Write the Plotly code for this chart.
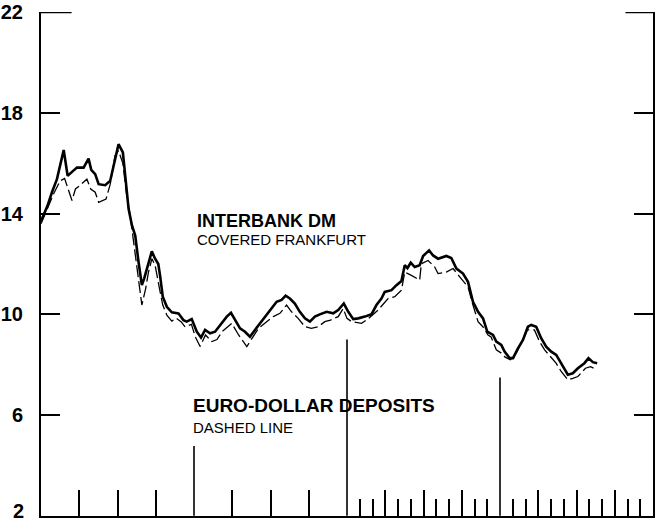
import plotly.graph_objects as go

# ---- data (x in months from start of the 4-year span) ----
dm_month = [0.0, 0.5, 0.86, 1.25, 1.78, 2.09, 2.43, 2.82, 3.34, 3.73, 3.94, 4.25, 4.52, 5.04,
            5.43, 5.69, 6.08, 6.42, 6.6, 6.87, 7.13, 7.39, 7.65, 7.91, 8.09, 8.43, 8.69, 8.95,
            9.2, 9.35, 9.55, 9.87, 10.26, 10.78, 11.17, 11.43, 11.82, 12.22, 12.55, 12.87,
            13.26, 13.65, 14.17, 14.57, 14.9, 15.22, 15.61, 16.0, 16.39, 16.78, 17.3, 17.7,
            18.09, 18.48, 18.87, 19.19, 19.52, 19.91, 20.3, 20.7, 21.09, 21.48, 21.87, 22.4,
            22.92, 23.31, 23.75, 24.1, 24.49, 24.88, 25.4, 25.92, 26.31, 26.7, 26.96, 27.49,
            27.88, 28.27, 28.53, 28.74, 29.0, 29.31, 29.7, 29.97, 30.44, 30.75, 31.14, 31.79,
            32.18, 32.58, 33.1, 33.49, 33.88, 34.28, 34.67, 35.0, 35.45, 35.71, 36.1, 36.36,
            36.75, 37.02, 37.41, 37.8, 38.19, 38.45, 38.84, 39.23, 39.62, 40.02, 40.41, 40.8,
            41.32, 41.71, 42.11, 42.62, 42.94, 43.28, 43.62]
dm_rate = [13.7, 14.3, 14.85, 15.37, 16.53, 15.5, 15.66, 15.83, 15.83, 16.19, 15.74, 15.57, 15.17, 15.13,
           15.31, 15.9, 16.76, 16.43, 15.5, 14.19, 13.54, 13.13, 12.08, 11.16, 11.42, 12.08, 12.5, 12.21,
           12.0, 11.5, 10.7, 10.3, 10.08, 10.04, 9.77, 9.71, 9.81, 9.31, 9.08, 9.38,
           9.25, 9.31, 9.64, 9.91, 10.06, 9.77, 9.44, 9.31, 9.11, 9.38, 9.71, 9.97,
           10.23, 10.5, 10.57, 10.74, 10.63, 10.43, 10.1, 9.84, 9.71, 9.91, 10.0, 10.1,
           10.04, 10.17, 10.43, 10.1, 9.81, 9.84, 9.91, 10.0, 10.37, 10.63, 10.89, 10.96,
           11.16, 11.32, 11.95, 11.84, 12.05, 11.88, 11.95, 12.32, 12.54, 12.34, 12.21, 12.32,
           12.24, 11.82, 11.62, 11.29, 10.5, 10.1, 9.84, 9.31, 9.18, 8.92, 8.79, 8.52,
           8.26, 8.26, 8.65, 8.98, 9.51, 9.58, 9.51, 9.05, 8.72, 8.52, 8.39, 8.06,
           7.6, 7.66, 7.86, 8.06, 8.26, 8.1, 8.06]

ed_month = [0.0, 0.5, 1.0, 1.5, 1.85, 2.43, 2.7, 3.0, 3.34, 3.6, 3.9, 4.25, 4.52, 4.78, 5.1,
            5.43, 5.8, 6.08, 6.42, 6.7, 7.0, 7.3, 7.6, 7.91, 8.2, 8.43, 8.7, 8.95, 9.3, 9.55,
            9.87, 10.26, 10.6, 11.0, 11.3, 11.8, 12.1, 12.48, 12.9, 13.4, 13.8, 14.2, 14.96,
            15.5, 16.14, 16.54, 17.05, 17.7, 18.22, 18.74, 19.26, 19.65, 20.17, 20.7, 21.2,
            21.74, 22.26, 22.7, 23.31, 23.7, 24.0, 24.36, 25.14, 25.6, 26.44, 27.22, 27.75,
            28.27, 28.53, 29.05, 29.7, 29.83, 30.36, 30.88, 31.14, 31.79, 32.32, 32.84, 33.49,
            33.88, 34.28, 34.67, 35.06, 35.3, 35.71, 36.1, 36.4, 36.8, 37.1, 37.6, 38.14, 38.7,
            39.1, 39.5, 40.02, 40.4, 40.8, 41.32, 41.71, 42.11, 42.7, 43.1, 43.62]
ed_rate = [13.6, 14.2, 14.8, 15.3, 15.4, 14.52, 14.98, 15.1, 15.24, 15.37, 14.98, 14.85, 14.45, 14.52, 14.58,
           15.17, 16.3, 16.5, 16.0, 14.8, 13.9, 12.74, 11.6, 10.37, 11.0, 11.68, 12.21, 11.95, 11.0, 10.37,
           9.97, 9.73, 9.85, 9.7, 9.5, 9.6, 9.11, 8.72, 9.18, 8.92, 9.0, 9.31, 9.64,
           9.18, 8.72, 9.05, 9.44, 9.71, 9.91, 10.04, 10.37, 10.1, 9.84, 9.51, 9.44,
           9.51, 9.71, 9.77, 9.91, 10.23, 9.84, 9.71, 9.64, 9.8, 10.17, 10.63, 10.7,
           10.96, 11.68, 11.55, 11.36, 12.01, 12.14, 11.88, 11.62, 11.68, 11.82, 11.49, 11.09,
           10.37, 9.71, 9.5, 9.18, 9.1, 8.59, 8.46, 8.3, 8.2, 8.3, 8.79, 9.38, 9.38,
           8.92, 8.59, 8.26, 8.06, 7.73, 7.4, 7.46, 7.53, 7.86, 7.92, 7.79]

# year separator lines (month position, height reached)
year_pos = [12, 24, 36]
year_top = [4.77, 9.0, 7.49]

y_ticks = [2, 6, 10, 14, 18, 22]
y_labels = ["2", "6", "10", "14", "18", "22"]
quarter_ticks = [3, 6, 9, 15, 18, 21, 27, 30, 33, 39, 42, 45]
month_ticks = [25, 26, 28, 29, 31, 32, 34, 35, 37, 38, 40, 41, 43, 44, 46, 47]

fig = go.Figure()

yl_x, yl_y = [], []
for p, t in zip(year_pos, year_top):
    yl_x += [p, p, None]
    yl_y += [2, t, None]
fig.add_trace(go.Scatter(x=yl_x, y=yl_y, mode="lines",
                         line=dict(color="black", width=1.6), hoverinfo="skip"))

fig.add_trace(go.Scatter(x=ed_month, y=ed_rate, mode="lines", name="Euro-dollar deposits",
                         line=dict(color="black", width=1.3, dash="12px,4px")))
fig.add_trace(go.Scatter(x=dm_month, y=dm_rate, mode="lines", name="Interbank DM",
                         line=dict(color="black", width=2.6)))

font_family = "Liberation Sans, Arial, sans-serif"
label_font = dict(family=font_family, size=20, color="black", weight="bold")

# the bottom label sits just above the frame edge, so it is drawn as an annotation
tick_text = [""] + y_labels[1:]

fig.update_layout(
    width=657, height=524,
    margin=dict(l=41, r=4, t=12, b=8),
    paper_bgcolor="white", plot_bgcolor="white",
    showlegend=False,
    xaxis=dict(range=[0, 48], showgrid=False, zeroline=False, showline=True,
               linecolor="black", linewidth=2, automargin=False,
               tickmode="array", tickvals=quarter_ticks, ticks="inside",
               ticklen=26, tickwidth=1.5, tickcolor="black", showticklabels=False,
               minor=dict(tickmode="array", tickvals=month_ticks, ticks="inside",
                          ticklen=17, tickwidth=1.5, tickcolor="black")),
    yaxis=dict(range=[1.99, 22.01], showgrid=False, zeroline=False, showline=True,
               linecolor="black", linewidth=2, mirror="ticks", automargin=False,
               tickmode="array", tickvals=y_ticks, ticktext=tick_text,
               ticks="inside", ticklen=19, tickwidth=1.6, tickcolor="black",
               ticklabelstandoff=12, ticklabeloverflow="allow",
               tickfont=label_font),
    shapes=[
        dict(type="line", xref="paper", yref="y", x0=0, x1=0.05, y0=22, y1=22,
             line=dict(color="black", width=2)),
        dict(type="line", xref="paper", yref="y", x0=0.955, x1=1, y0=22, y1=22,
             line=dict(color="black", width=2)),
    ],
    annotations=[
        dict(text=y_labels[0], xref="paper", yref="paper", x=(26 - 41) / 612, y=-8 / 504,
             xanchor="right", yanchor="bottom", showarrow=False, font=label_font),
        dict(text="INTERBANK DM", xref="paper", yref="paper", x=0.2516, y=(516 - 221.5) / 504,
             xanchor="left", yanchor="middle", showarrow=False,
             font=dict(family=font_family, size=18, color="black", weight="bold")),
        dict(text="COVERED FRANKFURT", xref="paper", yref="paper", x=0.2516, y=(516 - 240) / 504,
             xanchor="left", yanchor="middle", showarrow=False,
             font=dict(family=font_family, size=15, color="black")),
        dict(text="EURO-DOLLAR DEPOSITS", xref="paper", yref="paper", x=(190.7 - 41) / 612,
             y=(516 - 405) / 504, xanchor="left", yanchor="middle", showarrow=False,
             font=dict(family=font_family, size=19, color="black", weight="bold")),
        dict(text="DASHED LINE", xref="paper", yref="paper", x=(190.7 - 41) / 612,
             y=(516 - 427) / 504, xanchor="left", yanchor="middle", showarrow=False,
             font=dict(family=font_family, size=15, color="black")),
    ],
)

fig.write_html("out.html", config={"displayModeBar": False},
               post_script="document.body.style.margin='0';document.body.style.padding='0';"
                           "document.documentElement.style.margin='0';"
                           "document.documentElement.style.overflow='hidden';")
